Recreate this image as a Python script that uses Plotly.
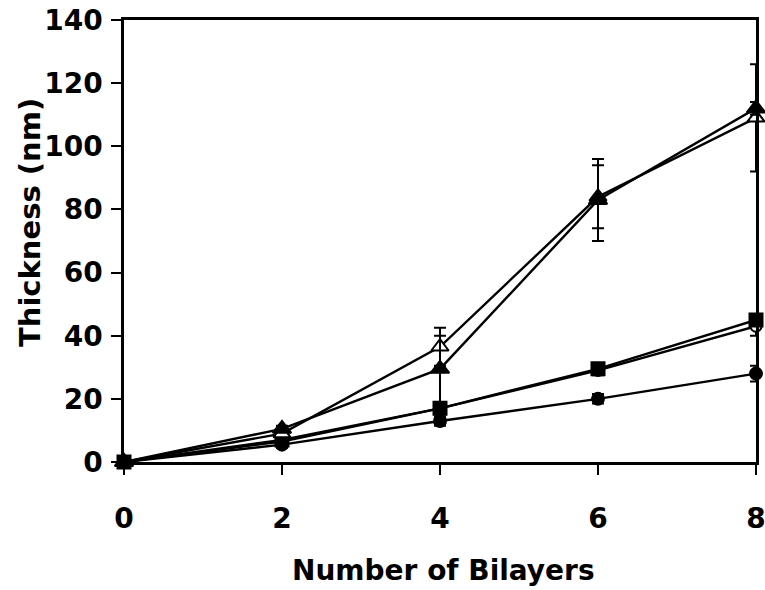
import plotly.graph_objects as go

bilayers = [0, 2, 4, 6, 8]

tri_filled = [0, 10.5, 29.5, 83, 112]
tri_filled_err = [0, 1, 10.5, 13, 2]

tri_open = [0, 9, 36.5, 84, 109]
tri_open_err = [0, 1, 6, 10, 17]

sq_filled = [0, 7, 17, 29.5, 45]
sq_filled_err = [0, 1, 1.5, 1.5, 1.5]

circ_open = [0, 6.5, 17, 29, 43]
circ_open_err = [0, 1, 1.5, 1.5, 3]

circ_filled = [0, 5.5, 13, 20, 28]
circ_filled_err = [0, 1, 1.5, 1.5, 2.5]

x_title = "Number of Bilayers"
y_title = "Thickness (nm)"

series = [
    ("circ_open", circ_open, circ_open_err, "circle-open", 11),
    ("circ_filled", circ_filled, circ_filled_err, "circle", 12),
    ("sq_filled", sq_filled, sq_filled_err, "square", 13),
    ("tri_open", tri_open, tri_open_err, "triangle-up-open", 15),
    ("tri_filled", tri_filled, tri_filled_err, "triangle-up", 16),
]

fig = go.Figure()
for name, ys, errs, sym, size in series:
    open_ = sym.endswith("open")
    fig.add_trace(go.Scatter(
        x=bilayers, y=ys, name=name, mode="lines+markers",
        line=dict(color="black", width=2.4),
        marker=dict(symbol=sym.replace("-open", "") if open_ else sym,
                    size=size,
                    color="white" if open_ else "black",
                    line=dict(color="black", width=2)),
        error_y=dict(type="data", array=errs, visible=True,
                     color="black", thickness=2, width=6),
        cliponaxis=False,
    ))

font_family = "DejaVu Sans, Arial, sans-serif"
L, R, T, B = 124, 9, 20, 128
W, H = 765, 590
pw, ph = W - L - R, H - T - B

fig.update_layout(
    width=W, height=H,
    margin=dict(l=L, r=R, t=T, b=B, autoexpand=False),
    paper_bgcolor="white", plot_bgcolor="white",
    showlegend=False,
    font=dict(family=font_family, color="black", size=28),
    xaxis=dict(
        range=[0, 8], tickvals=[0, 2, 4, 6, 8],
        showgrid=False, zeroline=False, automargin=False,
        showline=True, linecolor="black", linewidth=2.5, mirror=True,
        ticks="outside", ticklen=10, tickwidth=2, tickcolor="black",
        ticklabelstandoff=20, ticklabeloverflow="allow",
        tickfont=dict(size=28, family=font_family, weight="bold"),
    ),
    yaxis=dict(
        range=[0, 140], tickvals=[0, 20, 40, 60, 80, 100, 120, 140],
        showgrid=False, zeroline=False, automargin=False,
        showline=True, linecolor="black", linewidth=2.5, mirror=True,
        ticks="outside", ticklen=10, tickwidth=2, tickcolor="black",
        ticklabelstandoff=3, ticklabeloverflow="allow",
        tickfont=dict(size=28, family=font_family, weight="bold"),
    ),
    annotations=[
        dict(text="<b>%s</b>" % x_title, xref="paper", yref="paper",
             x=(443 - L) / pw, y=(T + ph - 570) / ph,
             xanchor="center", yanchor="middle", showarrow=False,
             font=dict(size=28, family=font_family, color="black")),
        dict(text="<b>%s</b>" % y_title, xref="paper", yref="paper",
             x=(30 - L) / pw, y=(T + ph - 223) / ph, textangle=-90,
             xanchor="center", yanchor="middle", showarrow=False,
             font=dict(size=29, family=font_family, color="black")),
    ],
)

fig.write_html(
    "out.html",
    config={"displayModeBar": False},
    post_script="document.body.style.margin='0';document.body.style.overflow='hidden';",
)
